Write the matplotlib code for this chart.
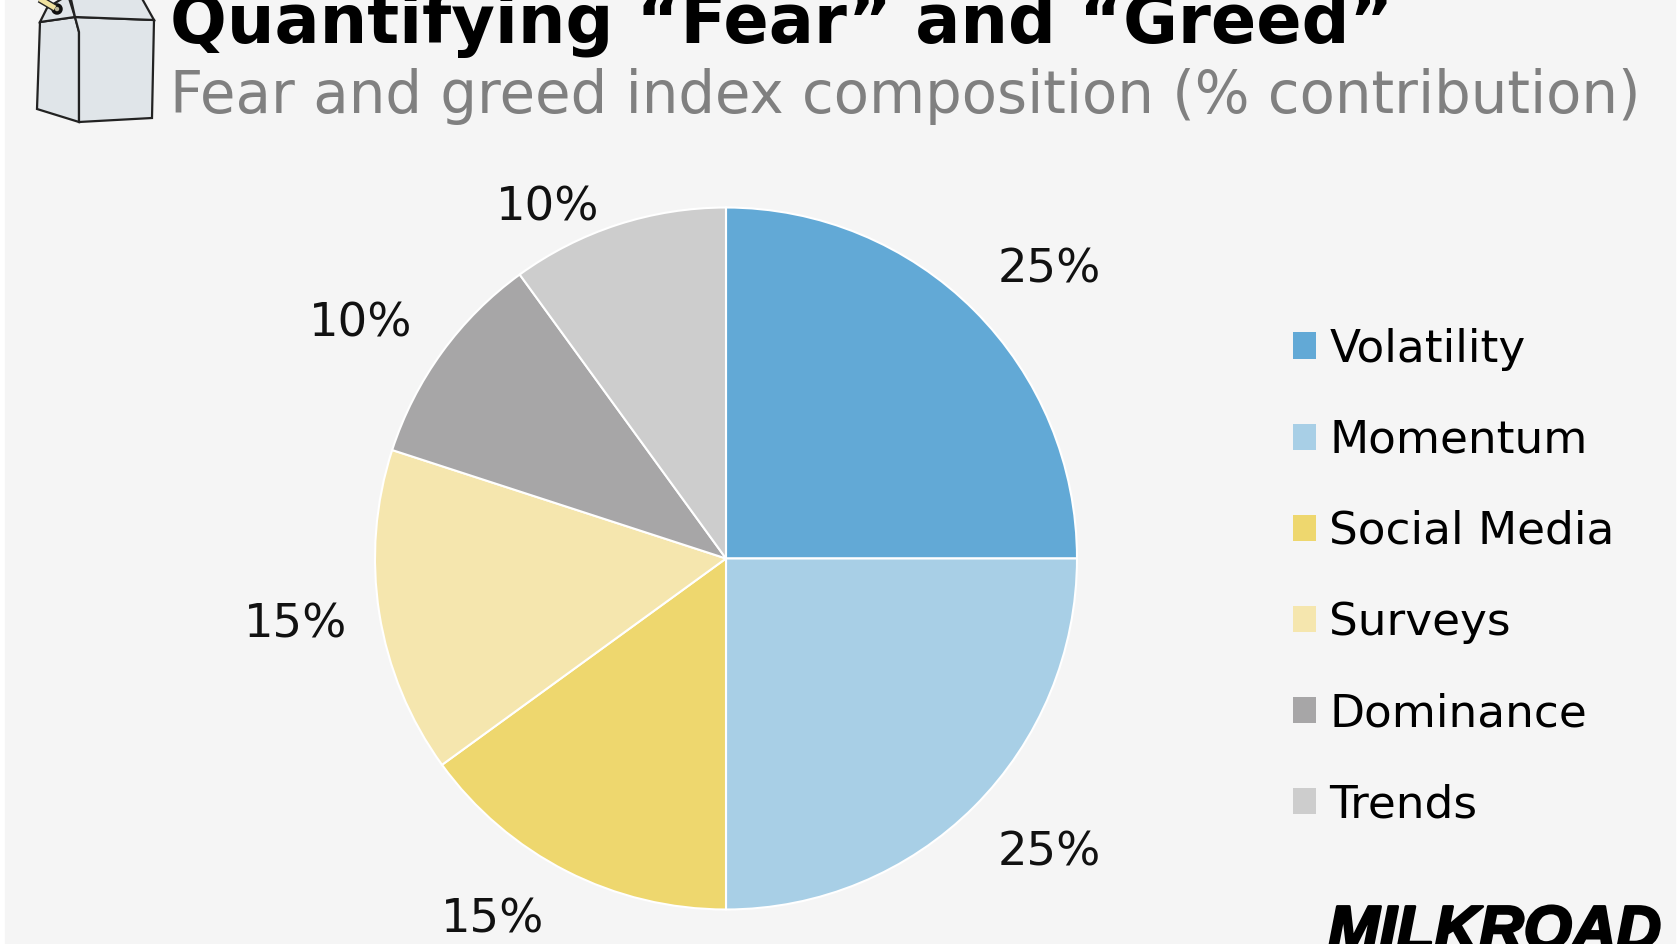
import matplotlib
matplotlib.use("Agg")
import matplotlib.pyplot as plt
import matplotlib.patheffects as pe
from matplotlib.patches import Polygon, Circle, Rectangle

categories = ["Volatility", "Momentum", "Social Media", "Surveys", "Dominance", "Trends"]
shares = [25, 25, 15, 15, 10, 10]
colors = ["#62a9d6", "#a8cfe6", "#eed76e", "#f5e6ae", "#a7a6a7", "#cdcdcd"]
pct_labels = ["25%", "25%", "15%", "15%", "10%", "10%"]

# pixel centres of the percent labels
label_pos = [(1049, 270), (1049, 853), (493, 920), (296, 625), (361, 324), (548, 208)]

W, H = 1680, 944
BG = "#f5f5f5"

fig = plt.figure(figsize=(W / 100, H / 100), dpi=100, facecolor="white")

# overlay in image pixels, for titles, labels and the carton
over = fig.add_axes([0, 0, 1, 1], zorder=3)
over.set_xlim(0, W)
over.set_ylim(H, 0)
over.axis("off")

bg = fig.add_axes([0, 0, 1, 1], zorder=0)
bg.axis("off")
bg.add_patch(Rectangle((5 / W, 0), 1670 / W, 1, transform=bg.transAxes, color=BG))

# Pie
cx, cy, r = 726, 558.5, 351
ax = fig.add_axes([(cx - r) / W, 1 - (cy + r) / H, 2 * r / W, 2 * r / H], zorder=1)
wedges, _ = ax.pie(
    shares,
    colors=colors,
    startangle=90,
    counterclock=False,
    radius=1,
    wedgeprops={"edgecolor": "white", "linewidth": 1.5},
)
ax.set_xlim(-1, 1)
ax.set_ylim(-1, 1)

for txt, (x, y) in zip(pct_labels, label_pos):
    over.text(x, y, txt, fontsize=33.5, color="#111111", ha="center", va="center")

# Legend
leg = fig.legend(
    wedges,
    categories,
    loc="center left",
    bbox_to_anchor=(1293 / W, 1 - 577 / H),
    frameon=False,
    fontsize=32.7,
    handlelength=0.51,
    handleheight=0.51,
    handletextpad=0.29,
    labelspacing=1.06,
    borderpad=0,
    borderaxespad=0,
)
for h in leg.legend_handles:
    h.set_edgecolor("none")

# Titles
over.text(170, 43, "Quantifying \u201cFear\u201d and \u201cGreed\u201d", fontsize=48.2, fontweight="bold",
          color="black", ha="left", va="baseline")
over.text(170, 113, "Fear and greed index composition (% contribution)", fontsize=41.6,
          color="#808080", ha="left", va="baseline")

# Brand text, cut off by the bottom edge
brand = over.text(1328, 949, "MILKROAD", fontsize=44.5, fontweight="bold", fontstyle="italic",
                  family="Liberation Sans", color="black", ha="left", va="baseline")
brand.set_path_effects([pe.withStroke(linewidth=2, foreground="black")])

# Milk carton
ink = "#222222"
fill = "#e0e5e9"
for pts in [
    [(40, 22), (75, 17), (79, 32), (79, 122), (37, 109)],
    [(75, 17), (154, 20), (152, 118), (79, 122), (79, 32)],
    [(40, 22), (47, 8), (68, -5), (75, 17)],
    [(75, 17), (70, -5), (140, -5), (154, 20)],
]:
    over.add_patch(Polygon(pts, closed=True, facecolor=fill, edgecolor=ink, linewidth=1.6))
over.plot([38, 55], [-2, 8], color=ink, linewidth=5.5, solid_capstyle="butt")
over.plot([38, 55], [-2, 8], color="#f0e2a0", linewidth=3.5, solid_capstyle="butt")
over.add_patch(Circle((57, 9), 4, facecolor="#b8b49a", edgecolor="#111111", linewidth=2.5))

fig.savefig("out.png", dpi=100)
